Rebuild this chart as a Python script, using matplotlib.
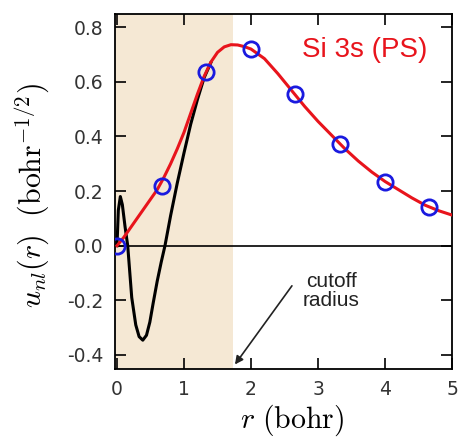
import matplotlib.pyplot as plt
from matplotlib.ticker import FuncFormatter

plt.rcParams['mathtext.fontset'] = 'cm'
plt.rcParams['font.family'] = ['DejaVu Sans']

# pseudo wavefunction (red)
ps_r = [0.0, 0.1, 0.2, 0.3, 0.4, 0.5, 0.6, 0.7, 0.8, 0.9, 1.0, 1.1, 1.2, 1.3,
        1.4, 1.5, 1.6, 1.7, 1.8, 1.9, 2.0, 2.2, 2.4, 2.6, 2.8, 3.0, 3.2, 3.4,
        3.6, 3.8, 4.0, 4.2, 4.4, 4.6, 4.8, 5.0]
ps_u = [0.0, 0.03, 0.065, 0.10, 0.135, 0.17, 0.205, 0.25, 0.30, 0.355, 0.415,
        0.485, 0.555, 0.62, 0.672, 0.708, 0.728, 0.736, 0.735, 0.729, 0.72,
        0.685, 0.63, 0.57, 0.51, 0.455, 0.405, 0.355, 0.31, 0.27, 0.235,
        0.205, 0.175, 0.148, 0.128, 0.112]

# all-electron wavefunction (black)
ae_r = [0.0, 0.02, 0.05, 0.08, 0.12, 0.16, 0.22, 0.28, 0.33, 0.385, 0.44,
        0.49, 0.54, 0.6, 0.66, 0.716, 0.8, 0.9, 1.0, 1.1, 1.2, 1.3, 1.4]
ae_u = [0.0, 0.13, 0.18, 0.15, 0.07, 0.0, -0.19, -0.29, -0.333, -0.346,
        -0.328, -0.28, -0.21, -0.13, -0.06, 0.0, 0.11, 0.23, 0.34, 0.445,
        0.535, 0.615, 0.67]

# sampled points (blue circles)
pt_r = [0.0, 0.665, 1.33, 2.0, 2.66, 3.33, 4.0, 4.66]
pt_u = [0.0, 0.22, 0.635, 0.722, 0.557, 0.373, 0.235, 0.143]

r_cut = 1.73

fig = plt.figure(figsize=(4.59, 4.41), dpi=100)
ax = fig.add_axes([0.2505, 0.163, 0.7345, 0.805])

ax.axvspan(-0.1, r_cut, color='#f5e8d4', zorder=0, lw=0)
ax.axhline(0, color='black', lw=1.2, zorder=1)
ax.plot(ae_r, ae_u, color='black', lw=2.2, zorder=2)
ax.plot(ps_r, ps_u, color='#e8141c', lw=2.2, zorder=3)
ax.plot(pt_r, pt_u, 'o', mfc='none', mec='#1a1adf', ms=11, mew=2, zorder=4)

ax.text(3.69, 0.715, 'Si 3s (PS)', color='#e8141c', fontsize=20,
        family='Liberation Sans', ha='center', va='center')
ax.text(3.2, -0.165, 'cutoff\nradius', ha='center', va='center',
        fontsize=15, family='Liberation Sans', color='#222222',
        linespacing=1.0)
ax.annotate('', xy=(1.76, -0.435), xytext=(2.61, -0.147),
            arrowprops=dict(arrowstyle='-|>', color='#222222', lw=1.2,
                            shrinkA=0, shrinkB=0, mutation_scale=12))

ax.set_xlim(-0.03, 5.0)
ax.set_ylim(-0.452, 0.848)
ax.set_xticks([0, 1, 2, 3, 4, 5])
ax.set_yticks([-0.4, -0.2, 0.0, 0.2, 0.4, 0.6, 0.8])
ax.yaxis.set_major_formatter(FuncFormatter(lambda v, p: f'{v:.1f}'))
ax.tick_params(direction='in', length=8, width=1.2, top=True, right=True,
               labelsize=13.5, labelcolor='#333333', pad=8)
for s in ax.spines.values():
    s.set_linewidth(1.3)

ax.set_xlabel(r'$r\ (\mathrm{bohr})$', fontsize=21.5)
ax.xaxis.set_label_coords(0.527, -0.093)
ax.set_ylabel(r'$u_{nl}(r)\ \ (\mathrm{bohr}^{-1/2})$', fontsize=21.5)
ax.yaxis.set_label_coords(-0.19, 0.489)

fig.savefig('out.png', dpi=100)
